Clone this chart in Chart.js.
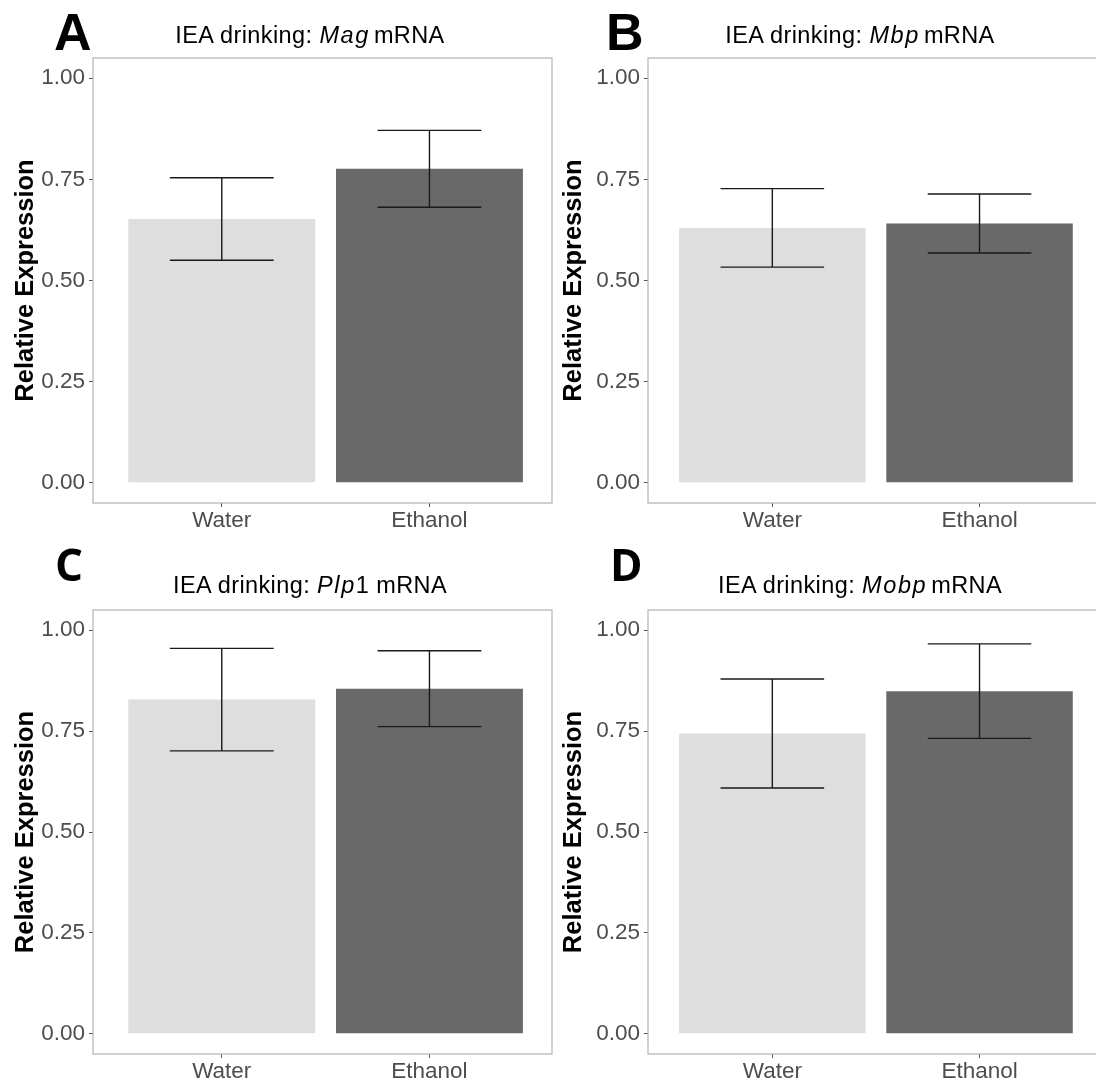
<!DOCTYPE html>
<html>
<head>
<meta charset="utf-8">
<script src="https://cdn.jsdelivr.net/npm/chart.js@4.4.1/dist/chart.umd.min.js"></script>
<style>
  html, body { margin: 0; padding: 0; background: #fff; }
  body { width: 1096px; height: 1085px; position: relative; overflow: hidden; }
  .panel { position: absolute; }
  .letter { position: absolute; font-weight: bold; color: #000; line-height: 1; white-space: nowrap; }
  .ab { font-family: "Liberation Sans", Arial, sans-serif; font-size: 52px; }
  .cd { font-family: "Open Sans", sans-serif; font-size: 44px; }
  .title {
    position: absolute; transform: translateX(-50%); white-space: nowrap;
    font-family: "Liberation Sans", Arial, sans-serif; font-size: 23.5px; line-height: 24px;
    letter-spacing: 0.4px; color: #000;
  }
  .title i { letter-spacing: 1.6px; margin-right: 4px; }
</style>
</head>
<body>
<div class="panel" style="left:0;top:0;width:556px;height:545px"><canvas id="chartA"></canvas></div>
<div class="panel" style="left:548px;top:0;width:562px;height:545px"><canvas id="chartB"></canvas></div>
<div class="panel" style="left:0;top:545px;width:556px;height:540px"><canvas id="chartC"></canvas></div>
<div class="panel" style="left:548px;top:545px;width:562px;height:540px"><canvas id="chartD"></canvas></div>

<div class="letter ab" style="left:54px;top:6px">A</div>
<div class="letter ab" style="left:606px;top:6px">B</div>
<div class="letter cd" style="left:55px;top:542px">C</div>
<div class="letter cd" style="left:610px;top:542px">D</div>

<div class="title" style="left:310px;top:23px">IEA drinking: <i>Mag</i>mRNA</div>
<div class="title" style="left:860px;top:23px">IEA drinking: <i>Mbp</i>mRNA</div>
<div class="title" style="left:310px;top:573px">IEA drinking: <i style="margin-right:0">Plp</i>1 mRNA</div>
<div class="title" style="left:860px;top:573px">IEA drinking: <i>Mobp</i>mRNA</div>

<script>
// groups on the x axis
const groups = ["Water", "Ethanol"];
const groupColors = ["#dedede", "#696969"];

// mean relative expression and standard error per group
const magMean = [0.652, 0.776];
const magErr = [0.102, 0.095];
const mbpMean = [0.630, 0.641];
const mbpErr = [0.097, 0.073];
const plp1Mean = [0.828, 0.855];
const plp1Err = [0.127, 0.094];
const mobpMean = [0.744, 0.849];
const mobpErr = [0.135, 0.117];

const yTicks = [0, 0.25, 0.5, 0.75, 1];

const tickFont = { family: "Liberation Sans", size: 22.5 };
const tickColor = "#4d4d4d";

// error bars: vertical line plus caps half a group wide
const errorBars = {
  id: "errorBars",
  afterDatasetsDraw(chart) {
    const { ctx, scales } = chart;
    const ds = chart.data.datasets[0];
    ctx.save();
    ctx.strokeStyle = "#1a1a1a";
    ctx.lineWidth = 1.4;
    ds.data.forEach((pt, i) => {
      const err = ds.errors[i];
      const cx = scales.x.getPixelForValue(pt.x);
      const left = scales.x.getPixelForValue(pt.x - 0.25);
      const right = scales.x.getPixelForValue(pt.x + 0.25);
      const hi = scales.y.getPixelForValue(pt.y + err);
      const lo = scales.y.getPixelForValue(pt.y - err);
      ctx.beginPath();
      ctx.moveTo(cx, hi); ctx.lineTo(cx, lo);
      ctx.moveTo(left, hi); ctx.lineTo(right, hi);
      ctx.moveTo(left, lo); ctx.lineTo(right, lo);
      ctx.stroke();
    });
    ctx.restore();
  }
};

// light box around the plotting area
const panelBox = {
  id: "panelBox",
  afterDraw(chart) {
    const { ctx, chartArea: a } = chart;
    ctx.save();
    ctx.strokeStyle = "#b3b3b3";
    ctx.lineWidth = 1.2;
    ctx.strokeRect(a.left, a.top, a.right - a.left, a.bottom - a.top);
    ctx.restore();
  }
};

function makeChart(id, means, errs, opts) {
  const points = means.map((m, i) => ({ x: i + 1, y: m }));
  return new Chart(document.getElementById(id), {
    type: "bar",
    data: {
      datasets: [{
        data: points,
        errors: errs,
        backgroundColor: groupColors,
        borderWidth: 0,
        barPercentage: 0.9,
        categoryPercentage: 1.0
      }]
    },
    options: {
      responsive: true,
      maintainAspectRatio: false,
      animation: false,
      events: [],
      layout: { padding: { left: 0, top: opts.top, right: opts.right, bottom: 0 } },
      plugins: { legend: { display: false }, tooltip: { enabled: false } },
      scales: {
        x: {
          type: "linear",
          min: opts.xMin,
          max: opts.xMax,
          offset: false,
          afterBuildTicks: (s) => { s.ticks = groups.map((g, i) => ({ value: i + 1 })); },
          afterFit: (s) => { s.height = opts.xHeight; },
          ticks: {
            callback: (v) => groups[v - 1],
            font: tickFont,
            color: tickColor,
            padding: 0,
            maxRotation: 0
          },
          grid: { offset: false, drawOnChartArea: false, drawTicks: true, tickLength: 4, color: "#555" },
          border: { display: false }
        },
        y: {
          min: -0.05,
          max: 1.05,
          afterBuildTicks: (s) => { s.ticks = yTicks.map((v) => ({ value: v })); },
          afterFit: (s) => { s.width = opts.yWidth; },
          ticks: {
            callback: (v) => v.toFixed(2),
            font: tickFont,
            color: tickColor,
            padding: 4
          },
          grid: { drawOnChartArea: false, drawTicks: true, tickLength: 4, color: "#555" },
          border: { display: false },
          title: {
            display: true,
            text: "Relative Expression",
            color: "#000",
            font: { family: "Liberation Sans", size: 25.5, weight: "bold" },
            padding: { top: 11, bottom: 0 }
          }
        }
      }
    },
    plugins: [errorBars, panelBox]
  });
}

makeChart("chartA", magMean, magErr, { top: 58, right: 4, xHeight: 42, yWidth: 93, xMin: 0.38, xMax: 2.59 });
makeChart("chartB", mbpMean, mbpErr, { top: 58, right: 2, xHeight: 42, yWidth: 100, xMin: 0.4, xMax: 2.62 });
makeChart("chartC", plp1Mean, plp1Err, { top: 65, right: 4, xHeight: 31, yWidth: 93, xMin: 0.38, xMax: 2.59 });
makeChart("chartD", mobpMean, mobpErr, { top: 65, right: 2, xHeight: 31, yWidth: 100, xMin: 0.4, xMax: 2.62 });
</script>
</body>
</html>
